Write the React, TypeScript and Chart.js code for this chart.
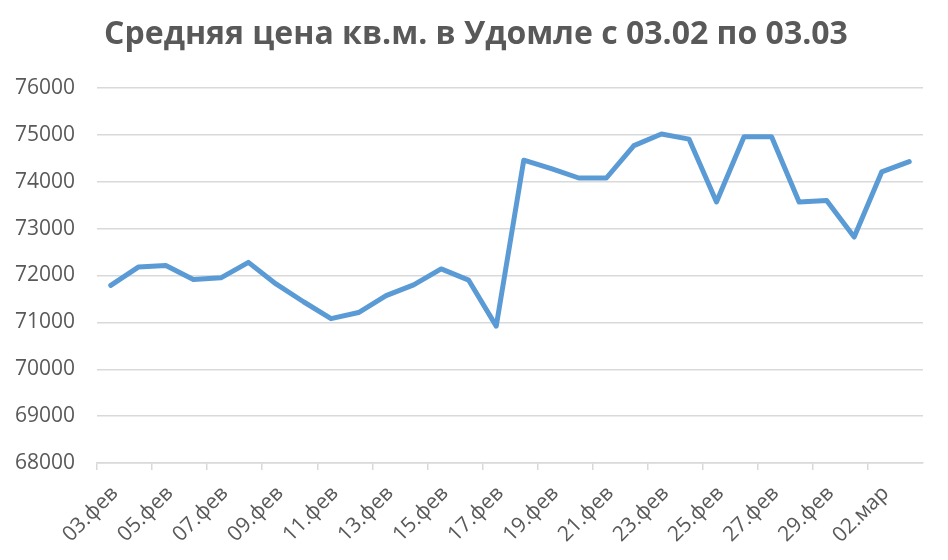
import React, { useEffect, useRef } from "react";
import { Chart, registerables } from "chart.js";

Chart.register(...registerables);

const TITLE = "Средняя цена кв.м. в Удомле с 03.02 по 03.03";

const dates = [
  "03.фев", "04.фев", "05.фев", "06.фев", "07.фев", "08.фев", "09.фев", "10.фев",
  "11.фев", "12.фев", "13.фев", "14.фев", "15.фев", "16.фев", "17.фев", "18.фев",
  "19.фев", "20.фев", "21.фев", "22.фев", "23.фев", "24.фев", "25.фев", "26.фев",
  "27.фев", "28.фев", "29.фев", "01.мар", "02.мар", "03.мар",
];

const prices = [
  71790, 72180, 72215, 71915, 71950, 72280, 71820, 71440,
  71080, 71210, 71570, 71800, 72140, 71900, 70920, 74460,
  74280, 74080, 74080, 74770, 75020, 74910, 73570, 74960,
  74960, 73570, 73600, 72820, 74210, 74430,
];

const Y_MIN = 68000;
const Y_MAX = 76000;
const Y_STEP = 1000;

const GRAY_TEXT = "#595959";
const GRID = "#d9d9d9";
const LINE = "#5b9bd5";

export default function App() {
  const ref = useRef<HTMLCanvasElement | null>(null);

  useEffect(() => {
    if (!ref.current) return;
    const titlePlugin = {
      id: "customTitle",
      afterDraw(chart: any) {
        const ctx = chart.ctx;
        ctx.save();
        ctx.font = 'bold 32px "Open Sans"';
        ctx.fillStyle = GRAY_TEXT;
        ctx.textAlign = "center";
        ctx.textBaseline = "middle";
        ctx.fillText(TITLE, 476, 35);
        ctx.restore();
      },
    };
    const chart = new Chart(ref.current, {
      type: "line",
      data: {
        labels: dates,
        datasets: [
          {
            data: prices,
            borderColor: LINE,
            backgroundColor: LINE,
            borderWidth: 5,
            pointRadius: 0,
            tension: 0,
            borderJoinStyle: "round",
            borderCapStyle: "round",
          },
        ],
      },
      options: {
        animation: false,
        responsive: false,
        maintainAspectRatio: false,
        layout: { padding: { top: 88, right: 25, bottom: 0, left: 0 } },
        plugins: { legend: { display: false }, title: { display: false }, tooltip: { enabled: false } },
        scales: {
          x: {
            offset: true,
            afterFit(scale: any) {
              scale.height = 97;
            },
            grid: {
              offset: true,
              drawOnChartArea: false,
              drawTicks: true,
              tickLength: 7,
              tickColor: (c: any) => (c.index % 2 === 0 ? GRID : "rgba(0,0,0,0)"),
              lineWidth: 1.5,
            },
            border: { display: true, color: GRID, width: 1.5 },
            ticks: {
              autoSkip: false,
              maxRotation: 45,
              minRotation: 45,
              padding: 11,
              labelOffset: 4,
              color: GRAY_TEXT,
              font: { family: '"Open Sans"', size: 21 },
              callback: (_v: any, i: number) => (i % 2 === 0 ? dates[i] : ""),
            },
          },
          y: {
            min: Y_MIN,
            max: Y_MAX,
            afterFit(scale: any) {
              scale.width = 97;
            },
            grid: { color: GRID, lineWidth: 1.5, drawTicks: false },
            border: { display: false },
            ticks: {
              stepSize: Y_STEP,
              padding: 22,
              color: GRAY_TEXT,
              font: { family: '"Open Sans"', size: 21 },
              callback: (v: any) => String(v),
            },
          },
        },
      },
      plugins: [titlePlugin],
    });
    return () => chart.destroy();
  }, []);

  return (
    <div style={{ position: "fixed", left: 0, top: 0, width: 948, height: 560, background: "#fff" }}>
      <canvas ref={ref} width={948} height={560} style={{ width: 948, height: 560 }} />
    </div>
  );
}
